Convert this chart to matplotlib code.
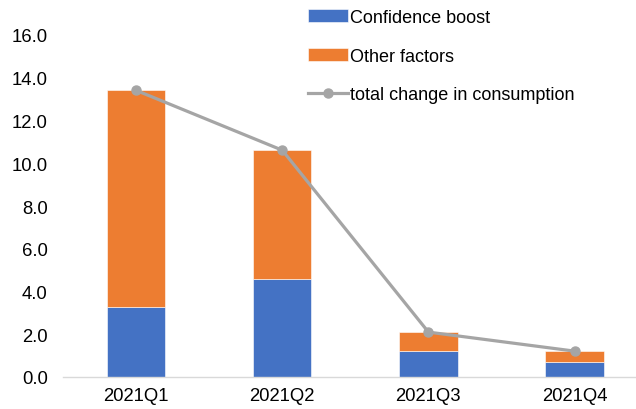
import matplotlib.pyplot as plt
from matplotlib.ticker import FormatStrFormatter

plt.rcParams['font.family'] = ['Liberation Sans', 'DejaVu Sans']

quarters = ["2021Q1", "2021Q2", "2021Q3", "2021Q4"]
confidence = [3.29, 4.58, 1.21, 0.68]
other = [10.12, 6.03, 0.89, 0.53]
total = [13.41, 10.61, 2.10, 1.21]

blue = '#4472C4'
orange = '#ED7D31'
gray = '#A5A5A5'

fig = plt.figure(figsize=(6.36, 4.10), dpi=100)
ax = fig.add_axes([63 / 636, 1 - 378 / 410, 1 - 63 / 636, 342 / 410])

x = range(len(quarters))
b1 = ax.bar(x, confidence, width=0.4, color=blue, edgecolor='white', linewidth=0.4,
            label='Confidence boost', zorder=2)
b2 = ax.bar(x, other, width=0.4, bottom=confidence, color=orange, edgecolor='white',
            linewidth=0.4, label='Other factors', zorder=2)
l1, = ax.plot(x, total, color=gray, linewidth=2.3, marker='o', markersize=6.5,
              label='total change in consumption', zorder=3)

ax.set_xlim(-0.5, 3.42)
ax.set_ylim(0, 16)
ax.set_yticks(range(0, 17, 2))
ax.yaxis.set_major_formatter(FormatStrFormatter('%.1f'))
ax.set_xticks(list(x))
ax.set_xticklabels(quarters)
ax.tick_params(axis='both', length=0, labelsize=13.3, colors='#000000')
ax.tick_params(axis='y', pad=11)
ax.tick_params(axis='x', pad=7)

for s in ['top', 'right', 'left']:
    ax.spines[s].set_visible(False)
ax.spines['bottom'].set_color('#D9D9D9')
ax.spines['bottom'].set_linewidth(1)

fig.legend([b1, b2, l1], ['Confidence boost', 'Other factors', 'total change in consumption'],
           loc='upper left', bbox_to_anchor=(298 / 636, 1.0), frameon=False,
           fontsize=13, labelspacing=1.2, handlelength=2.2, handleheight=0.7,
           handletextpad=0.15, borderaxespad=0.15)

fig.savefig('out.png', dpi=100)
